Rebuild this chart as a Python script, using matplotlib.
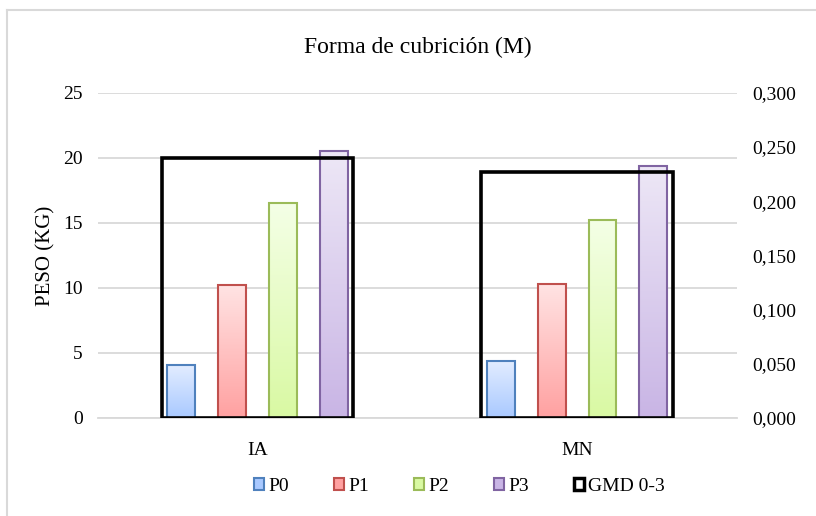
import numpy as np
import matplotlib
import matplotlib.pyplot as plt
from matplotlib.colors import LinearSegmentedColormap
from matplotlib.lines import Line2D
from matplotlib.patches import Patch
from matplotlib.ticker import FuncFormatter

matplotlib.use('Agg')
plt.rcParams['font.family'] = ['Liberation Serif', 'DejaVu Serif']

# data
categories = ['IA', 'MN']
series = ['P0', 'P1', 'P2', 'P3']
peso = {
    'P0': [4.1, 4.4],
    'P1': [10.2, 10.3],
    'P2': [16.5, 15.2],
    'P3': [20.5, 19.4],
}
gmd = [0.240, 0.227]

# (edge, light top, darker bottom)
colors = {
    'P0': ('#4F81BD', '#E3EDFF', '#A9C9FF'),
    'P1': ('#C0504D', '#FFE3E3', '#FFA1A1'),
    'P2': ('#9BBB59', '#F4FFE6', '#D9F9A3'),
    'P3': ('#8064A2', '#EDE7F6', '#C9B5E5'),
}

fig = plt.figure(figsize=(8.16, 5.16), dpi=100)
ax = fig.add_axes([0.12, 0.19, 0.783, 0.63])
ax2 = ax.twinx()

x = np.arange(len(categories))
w = 0.0875
step = 0.159
grad = np.linspace(0, 1, 100).reshape(-1, 1)

for i, s in enumerate(series):
    edge, top, bot = colors[s]
    cmap = LinearSegmentedColormap.from_list(s, [top, bot])
    bars = ax.bar(x + (i - 1.5) * step, peso[s], width=w, facecolor='none',
                  edgecolor=edge, linewidth=1.5, zorder=3)
    for r in bars:
        ax.imshow(grad, cmap=cmap, aspect='auto', zorder=2,
                  extent=[r.get_x(), r.get_x() + r.get_width(), 0, r.get_height()])

ax2.bar(x, gmd, width=0.6, facecolor='none', edgecolor='black', linewidth=2.6, zorder=4)

ax.set_xlim(-0.5, 1.5)
ax.set_ylim(0, 25)
ax2.set_ylim(0, 0.3)
ax.set_yticks(np.arange(0, 26, 5))
ax2.set_yticks(np.arange(0, 0.31, 0.05))
ax2.yaxis.set_major_formatter(FuncFormatter(lambda v, p: f'{v:.3f}'.replace('.', ',')))
ax.set_xticks(x)
ax.set_xticklabels(categories)

ax.yaxis.grid(True, color='#D9D9D9', linewidth=1.3)
ax.set_axisbelow(True)
for a in (ax, ax2):
    for sp in a.spines.values():
        sp.set_visible(False)
    a.tick_params(length=0, labelsize=14, colors='black')
ax.spines['bottom'].set_visible(True)
ax.spines['bottom'].set_color('#D9D9D9')
ax.spines['bottom'].set_linewidth(1.3)
ax.tick_params(axis='y', pad=11)
ax2.tick_params(axis='y', pad=11)
ax.tick_params(axis='x', pad=17)

ax.set_ylabel('PESO (KG)', fontsize=15)
ax.yaxis.set_label_coords(-0.067, 0.5)
fig.text(0.512, 0.909, 'Forma de cubrición (M)', fontsize=17, ha='center', va='center')

handles = [Patch(facecolor=colors[s][2], edgecolor=colors[s][0], linewidth=1.5) for s in series]
handles.append(Patch(facecolor='white', edgecolor='black', linewidth=2.5))
fig.legend(handles, series + ['GMD 0-3'], loc='center', bbox_to_anchor=(0.563, 0.058),
           ncol=5, frameon=False, fontsize=14, handlelength=0.55, handleheight=0.55,
           handletextpad=0.2, columnspacing=2.3)

# chart area border (only left and top visible in the crop)
fig.add_artist(Line2D([7 / 816, 7 / 816], [0, 1 - 10 / 516], color='#D9D9D9', lw=1.5))
fig.add_artist(Line2D([7 / 816, 1], [1 - 10 / 516, 1 - 10 / 516], color='#D9D9D9', lw=1.5))

fig.savefig('out.png', dpi=100)
